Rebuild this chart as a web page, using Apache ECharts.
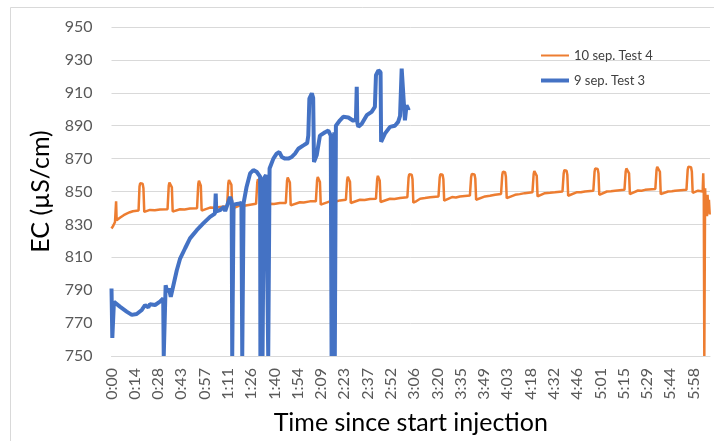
<!DOCTYPE html>
<html>
<head>
<meta charset="utf-8">
<script src="https://cdn.jsdelivr.net/npm/echarts@6/dist/echarts.min.js"></script>
<style>
  html, body { margin: 0; padding: 0; background: #fff; }
  #chart { width: 714px; height: 441px; }
</style>
</head>
<body>
<div id="chart"></div>
<script>
// EC readings as [seconds since start of injection, EC in µS/cm]
const test4Readings = [
  [0,827.5],[60,829],[130,831.5],[170,844],[190,832.5],[310,834],[450,835.6],[560,836.5],[680,837.4],[790,838],[1000,838.5],
  [1010,839],[1035,853],[1060,855],[1150,854.7],[1180,852],[1210,837.6],[1270,838],[1420,838.8],[1600,838.6],[1790,839],[2070,839.2],
  [2090,839.2],[2115,853.5],[2140,855.5],[2200,855.2],[2230,852.5],[2260,837.8],[2330,838.3],[2530,839.2],[2700,839.1],[2900,839.6],[3160,839.8],
  [3180,840],[3205,854.5],[3230,856.5],[3270,856.2],[3300,853.5],[3330,838.4],[3400,838.8],[3640,840.2],[3800,840.1],[4010,840.6],[4270,841],
  [4290,841],[4315,855],[4340,857],[4400,856.7],[4430,854],[4460,839.6],[4530,840.2],[4750,841.6],[4900,841.4],[5120,842],[5340,842.5],
  [5360,842.5],[5385,855.5],[5410,857.5],[5450,857.2],[5480,854.5],[5510,841],[5580,841.5],[5860,842.6],[6000,842.4],[6220,843],[6440,843],
  [6460,843],[6485,856.5],[6510,858.5],[6560,858.2],[6590,855.5],[6620,841.6],[6690,842.2],[6960,843.5],[7100,843.3],[7330,844],[7550,844],
  [7570,844],[7595,856.8],[7620,858.8],[7670,858.5],[7700,855.8],[7730,842],[7790,842.6],[8070,844],[8250,843.8],[8440,844.6],[8660,845],
  [8680,845],[8705,857],[8730,859],[8780,858.7],[8810,856],[8840,843],[8900,843.6],[9180,845],[9350,844.8],[9550,845.4],[9770,845.6],
  [9790,845.6],[9815,857.5],[9840,859.5],[9880,859.2],[9910,856.5],[9940,843.6],[10010,844.2],[10290,845.6],[10450,845.4],[10660,846],[10930,846.5],
  [10950,846.5],[10975,858.5],[11000,860.5],[11090,860.2],[11120,857.5],[11150,843.2],[11230,843.8],[11400,845.6],[11580,846],[11770,846.5],[12080,847],
  [12100,847],[12125,858.5],[12150,860.5],[12230,860.2],[12260,857.5],[12290,844.4],[12360,845],[12580,846.6],[12720,846.4],[12870,847],[13240,847.5],
  [13260,847.5],[13285,858.7],[13310,860.7],[13410,860.4],[13440,857.7],[13470,845],[13540,845.6],[13800,847],[13980,847.4],[14170,848],[14390,848.5],
  [14410,848.5],[14435,860],[14460,862],[14540,861.7],[14570,859],[14600,846],[14670,846.6],[14910,848],[15080,848.4],[15270,849],[15550,849.5],
  [15570,849.5],[15595,860.5],[15620,862.5],[15680,862.2],[15710,859.5],[15740,847],[15810,847.6],[16010,849],[16200,849.2],[16380,849.5],[16660,850],
  [16680,850],[16705,861],[16730,863],[16810,862.7],[16840,860],[16870,847.4],[16940,848],[17200,849.6],[17340,849.5],[17490,850],[17800,850.5],
  [17820,850.5],[17845,862],[17870,864],[17960,863.7],[17990,861],[18020,848],[18080,848.6],[18300,850],[18450,850.2],[18600,850.5],[18950,851],
  [18970,851],[18995,862],[19020,864],[19090,863.7],[19120,861],[19150,848.4],[19230,849],[19450,850.6],[19580,850.5],[19710,851],[20090,851.5],
  [20110,851.5],[20135,863],[20160,865],[20230,864.7],[20260,862],[20290,848.4],[20350,849],[20560,850],[20700,850.2],[20820,850.5],[21240,851],
  [21260,851],[21285,863],[21310,865],[21410,864.7],[21440,862],[21470,849.2],[21520,849.8],[21670,850.5],[21840,850],[21860,861],[21880,849],
  [21900,750],[21920,750],[21930,852],[21950,840],[21980,846],[22000,835],[22020,848],[22050,838],[22070,845],[22100,836]
];

const test3Readings = [
  [0,791],[30,761],[90,783],[310,780],[560,777],[750,775],[930,775.5],[1120,778],[1240,781],[1300,780],[1360,779.5],
  [1420,781.5],[1610,781],[1790,783],[1910,785],[1930,750],[1950,750],[2000,793],[2060,789],[2120,791],[2190,786],
  [2260,791],[2410,802],[2530,809],[2720,815.5],[2900,821.5],[3150,826.5],[3390,830.6],[3640,834.6],[3820,836.6],
  [3850,848.8],[3870,838],[4010,838.7],[4160,840.7],[4200,838],[4260,841],[4380,846.7],[4440,844],[4460,750],[4480,750],
  [4510,842],[4670,842.5],[4800,843],[4830,750],[4850,750],[4880,843],[4990,852.8],[5120,861],[5240,863],[5360,862],
  [5490,859],[5500,750],[5520,750],[5550,858],[5580,750],[5600,750],[5630,858],[5710,860],[5770,861],[5790,750],[5820,750],
  [5840,864],[5860,865],[5980,870],[6100,873],[6200,874],[6290,871],[6410,870],[6530,870],[6660,871],[6780,873],[6900,876],
  [7090,878],[7230,879.5],[7270,884],[7310,906.5],[7400,909.6],[7450,907],[7480,868],[7580,872],[7700,884],[7890,886],
  [8010,887],[8100,884],[8130,750],[8150,750],[8170,885],[8190,750],[8210,750],[8230,886],[8250,750],[8270,750],[8290,890],
  [8440,893.3],[8560,895.4],[8750,895],[8930,893],[9030,894],[9060,913.6],[9080,892],[9120,889.3],[9240,891],[9430,896.4],
  [9610,898.4],[9730,901.4],[9770,920.7],[9860,923.7],[9940,922.5],[9960,880.2],[10100,885.2],[10290,889.3],[10470,890],
  [10590,892.3],[10660,896],[10720,924.7],[10780,924.7],[10820,898.4],[10840,893.3],[10900,902.4],[10960,900.4],[11010,901]
];

// Labelled time ticks, one every 860 s (h:mm)
const timeTicks = ['0:00','0:14','0:28','0:43','0:57','1:11','1:26','1:40','1:54','2:09','2:23','2:37','2:52',
  '3:06','3:20','3:35','3:49','4:03','4:18','4:32','4:46','5:01','5:15','5:29','5:44','5:58'];
const tickStep = 860;
const timeEnd = 22110;

const seriesNames = ['10 sep. Test 4', '9 sep. Test 3'];
const seriesColors = ['#ED7D31', '#4472C4'];
const lineWidths = [2.5, 4];

const chart = echarts.init(document.getElementById('chart'), null, { renderer: 'canvas' });

const labelFont = 'Lato, "Open Sans", sans-serif';

chart.setOption({
  animation: false,
  backgroundColor: '#fff',
  graphic: [{
    type: 'rect',
    silent: true,
    z: -10,
    shape: { x: 10.5, y: 7.5, width: 760, height: 480 },
    style: { fill: 'none', stroke: '#d9d9d9', lineWidth: 1 }
  }],
  grid: { left: 111.5, right: 4, top: 27, bottom: 85, containLabel: false },
  legend: {
    data: [
      { name: seriesNames[0], icon: 'path://M0 0H28V2H0Z' },
      { name: seriesNames[1], icon: 'path://M0 0H28V4H0Z' }
    ],
    orient: 'vertical',
    left: 536,
    top: 44,
    itemWidth: 28,
    itemHeight: 14,
    itemGap: 12,
    textStyle: { fontFamily: labelFont, fontSize: 13, color: '#404040' }
  },
  xAxis: {
    type: 'value',
    min: 0,
    max: timeEnd,
    interval: tickStep,
    name: 'Time since start injection',
    nameLocation: 'middle',
    nameGap: 54,
    nameTextStyle: { fontFamily: labelFont, fontSize: 25, color: '#000' },
    axisLine: { show: true, lineStyle: { color: '#d9d9d9', width: 1 } },
    axisTick: { show: false },
    splitLine: { show: false },
    axisLabel: {
      rotate: 90,
      margin: 12,
      fontFamily: labelFont,
      fontSize: 16,
      color: '#595959',
      showMaxLabel: false,
      formatter: function (v) {
        if (v % tickStep !== 0) return '';
        const i = v / tickStep;
        return i < timeTicks.length ? timeTicks[i] : '';
      }
    }
  },
  yAxis: {
    type: 'value',
    min: 750,
    max: 950,
    interval: 20,
    name: 'EC (µS/cm)',
    nameLocation: 'middle',
    nameGap: 50,
    nameTextStyle: { fontFamily: labelFont, fontSize: 25, color: '#000' },
    axisLine: { show: false },
    axisTick: { show: false },
    splitLine: { lineStyle: { color: '#d9d9d9', width: 1 } },
    axisLabel: { margin: 19, fontFamily: labelFont, fontSize: 16, color: '#595959' }
  },
  series: [
    {
      name: seriesNames[0],
      type: 'line',
      data: test4Readings,
      symbol: 'none',
      showSymbol: false,
      clip: true,
      color: seriesColors[0],
      lineStyle: { color: seriesColors[0], width: lineWidths[0] },
      z: 2
    },
    {
      name: seriesNames[1],
      type: 'line',
      data: test3Readings,
      symbol: 'none',
      showSymbol: false,
      clip: true,
      color: seriesColors[1],
      lineStyle: { color: seriesColors[1], width: lineWidths[1] },
      z: 3
    }
  ]
});
</script>
</body>
</html>
